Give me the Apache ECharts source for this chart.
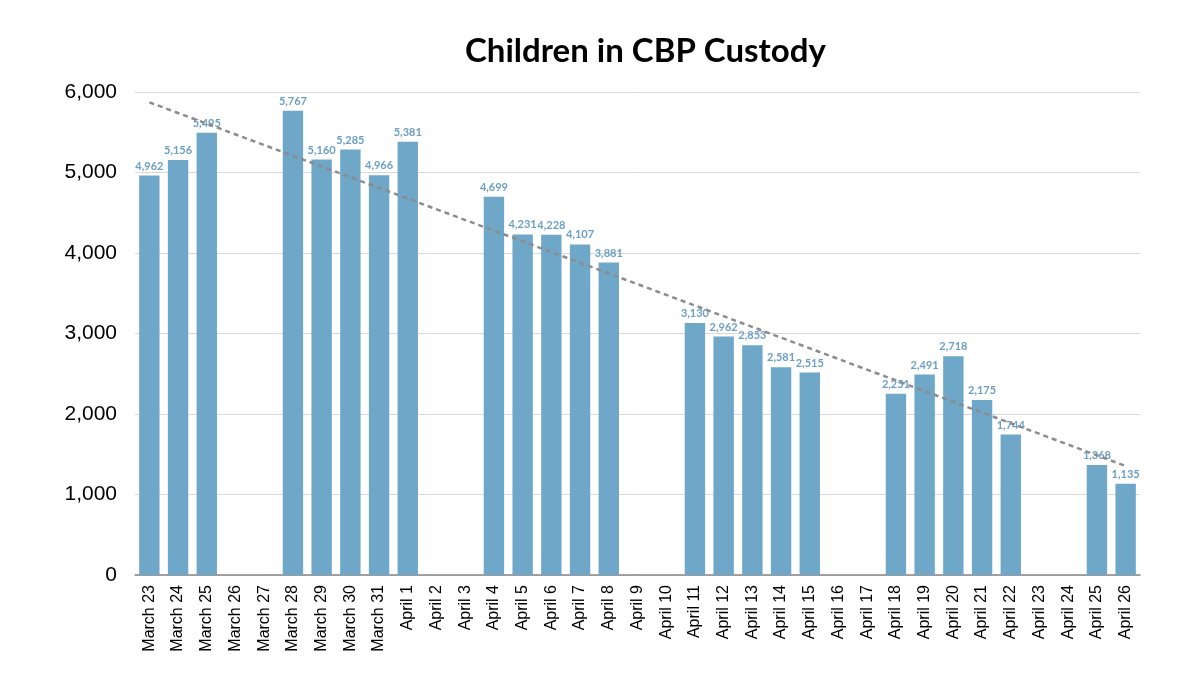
<!DOCTYPE html>
<html><head><meta charset="utf-8">
<script src="https://cdn.jsdelivr.net/npm/echarts@6/dist/echarts.min.js"></script>
<style>html,body{margin:0;padding:0;background:#fff}#c{width:1200px;height:675px}</style>
</head><body><div id="c"></div>
<script>
const categories = ["March 23","March 24","March 25","March 26","March 27","March 28","March 29","March 30","March 31","April 1","April 2","April 3","April 4","April 5","April 6","April 7","April 8","April 9","April 10","April 11","April 12","April 13","April 14","April 15","April 16","April 17","April 18","April 19","April 20","April 21","April 22","April 23","April 24","April 25","April 26"];
const children = [4962,5156,5495,null,null,5767,5160,5285,4966,5381,null,null,4699,4231,4228,4107,3881,null,null,3130,2962,2853,2581,2515,null,null,2251,2491,2718,2175,1744,null,null,1368,1135];
const trendStart = ["March 23", 5872];
const trendEnd = ["April 26", 1354];
const yTicks = [0,1000,2000,3000,4000,5000,6000];

const chart = echarts.init(document.getElementById('c'));
chart.setOption({
  animation:false,
  title:{text:"Children in CBP Custody",left:460,top:30,textStyle:{fontFamily:'Lato',fontWeight:'bold',fontSize:33,color:'#000'}},
  grid:{left:135,right:60,top:92,bottom:100},
  xAxis:{type:'category',data:categories,boundaryGap:true,
    axisLine:{lineStyle:{color:'#888',width:1.5}},axisTick:{show:false},
    axisLabel:{rotate:90,interval:0,fontFamily:'Liberation Sans',fontSize:16,color:'#000',margin:10}},
  yAxis:{type:'value',min:yTicks[0],max:yTicks[yTicks.length-1],interval:1000,
    axisLine:{show:false},axisTick:{show:false},
    splitLine:{lineStyle:{color:'#d9d9d9',width:1}},
    axisLabel:{fontFamily:'Liberation Sans',fontSize:21,color:'#000',margin:18,
      formatter:v=>v.toLocaleString('en-US')}},
  series:[
    {type:'bar',data:children,barCategoryGap:'29%',itemStyle:{color:'#6ea7c8'},
     label:{show:true,position:'top',distance:4,fontFamily:'Lato',fontWeight:'bold',fontSize:11,color:'#6b9fc3',
       formatter:p=>p.value==null?'':p.value.toLocaleString('en-US')}},
    {type:'line',data:[trendStart,trendEnd],symbol:'none',z:5,
     lineStyle:{color:'#8c8c8c',width:2.5,type:[5,4]}}
  ]
});
</script></body></html>
